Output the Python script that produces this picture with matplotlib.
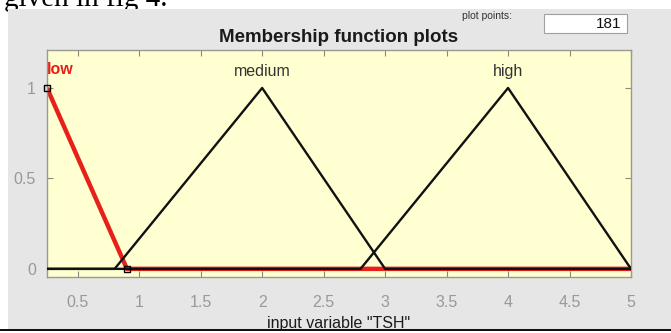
import matplotlib.pyplot as plt
from matplotlib.patches import Rectangle

# Membership function vertices for input variable "TSH"
x_range = [0.25, 5]
low_x = [0.25, 0.9, 5]
low_y = [1, 0, 0]
medium_x = [0.25, 0.8, 2, 3, 5]
medium_y = [0, 0, 1, 0, 0]
high_x = [0.25, 2.8, 4, 5]
high_y = [0, 0, 1, 0]

mf_names = ["low", "medium", "high"]
mf_label_x = [0.25, 2, 4]

x_ticks = [0.5, 1, 1.5, 2, 2.5, 3, 3.5, 4, 4.5, 5]
x_tick_labels = ["0.5", "1", "1.5", "2", "2.5", "3", "3.5", "4", "4.5", "5"]
y_ticks = [0, 0.5, 1]
y_tick_labels = ["0", "0.5", "1"]
plot_points = 181

W, H = 671, 333
fig = plt.figure(figsize=(W / 100, H / 100), dpi=100, facecolor="white")


def px(x, y):
    # pixel position (from top-left) -> figure fraction
    return x / W, 1 - y / H


# Text of the surrounding page, cut off by the panel
fx, fy = px(4, 6)
fig.text(fx, fy, "given in fig 4.", family="Liberation Serif", fontsize=21,
         color="black", va="baseline", ha="left", zorder=0.5)

# Gray GUI panel
fig.patches.append(Rectangle((8 / W, 1 - 329 / H), 1, (329 - 9) / H,
                             transform=fig.transFigure, facecolor="#e6e6e6",
                             edgecolor="none", zorder=1))

ax = fig.add_axes([47 / W, 1 - 277 / H, (631 - 47) / W, (277 - 50) / H])
ax.set_zorder(2)
ax.set_facecolor("#ffffd2")

# Selected MF drawn thick red, others black on top
ax.plot(low_x, low_y, color="#e8201a", lw=3.2, solid_capstyle="butt", zorder=2)
ax.plot(medium_x, medium_y, color="#111111", lw=1.7, zorder=3)
ax.plot(high_x, high_y, color="#111111", lw=1.7, zorder=3)
ax.plot(low_x[:2], low_y[:2], ls="none", marker="s", markersize=5,
        markerfacecolor="none", markeredgecolor="black", markeredgewidth=1.0,
        zorder=4, clip_on=False)

for name, lx in zip(mf_names, mf_label_x):
    if name == "low":
        ax.text(lx, 1.1, name, color="#e8201a", fontweight="bold",
                family="Liberation Sans", fontsize=11.5, ha="left", va="center")
    else:
        ax.text(lx, 1.09, name, color="#333333", family="Liberation Sans",
                fontsize=11.5, ha="center", va="center")

ax.set_xlim(x_range)
ax.set_ylim(-0.045, 1.21)
ax.set_xticks(x_ticks)
ax.set_xticklabels(x_tick_labels)
ax.set_yticks(y_ticks)
ax.set_yticklabels(y_tick_labels)
ax.tick_params(direction="in", length=4, width=0.8, color="#8a8a7a",
               top=True, right=True, labelcolor="#999999", labelsize=11.5)
ax.tick_params(axis="x", pad=13)
ax.tick_params(axis="y", pad=8)
for lab in ax.get_xticklabels() + ax.get_yticklabels():
    lab.set_family("Liberation Sans")
for s in ax.spines.values():
    s.set_color("#9a9a8a")
    s.set_linewidth(1.0)

ax.set_title("Membership function plots", family="Liberation Sans",
             fontweight="bold", fontsize=13.5, color="#1a1a1a", pad=6)
ax.set_xlabel('input variable "TSH"', family="Liberation Sans", fontsize=11.5,
              color="#1a1a1a", labelpad=4)

# "plot points" field
tx, ty = px(462, 19)
fig.text(tx, ty, "plot points:", family="Liberation Sans", fontsize=7.5,
         color="#333333", va="baseline", zorder=3)
fig.patches.append(Rectangle((544 / W, 1 - 33 / H), (627 - 544) / W, 19 / H,
                             transform=fig.transFigure, facecolor="white",
                             edgecolor="#a0a0a0", lw=0.8, zorder=3))
nx, ny = px(621, 24)
fig.text(nx, ny, str(plot_points), family="Liberation Sans", fontsize=11,
         color="#111111", ha="right", va="center", zorder=4)

# Bottom edge of the panel
fig.patches.append(Rectangle((0, 0), 1, (333 - 330) / H,
                             transform=fig.transFigure, facecolor="white",
                             edgecolor="none", zorder=6))
fig.patches.append(Rectangle((0, (333 - 331) / H), 1, 1.6 / H,
                             transform=fig.transFigure, facecolor="#111111",
                             edgecolor="none", zorder=7))

fig.savefig("out.png", dpi=100)
